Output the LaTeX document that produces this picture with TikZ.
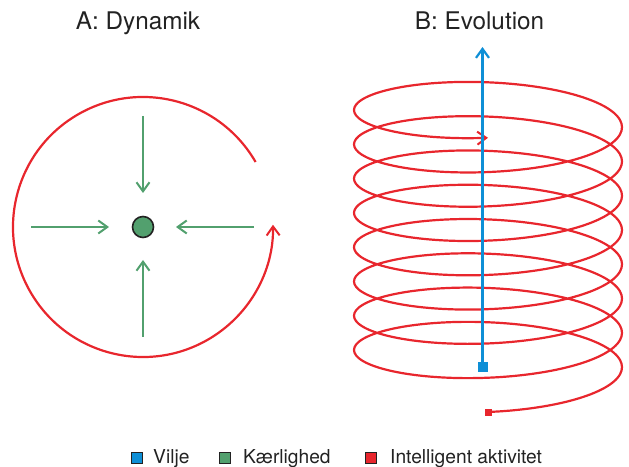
\documentclass[tikz,border=0pt]{standalone}
\usepackage{fontspec}
\setmainfont{TeX Gyre Heros}
\usetikzlibrary{arrows.meta}
\definecolor{cred}{HTML}{E8262D}
\definecolor{cgreen}{HTML}{52A06E}
\definecolor{cblue}{HTML}{0E8FD6}
\definecolor{ctext}{HTML}{222222}
\tikzset{
  redline/.style={draw=cred, line width=2.2pt},
  greenarrow/.style={draw=cgreen, line width=2pt, -{Straight Barb[length=9pt,width=13pt,line width=2pt]}},
  bluearrow/.style={draw=cblue, line width=2.6pt, -{Straight Barb[length=9pt,width=13pt,line width=2.2pt]}},
  legsq/.style={draw=ctext, line width=0.6pt, minimum size=11pt, inner sep=0pt},
  legtxt/.style={anchor=base west, inner sep=0pt, text=ctext, font=\fontsize{19.2}{22}\selectfont},
  titletxt/.style={anchor=base, inner sep=0pt, text=ctext, font=\fontsize{24.3}{28}\selectfont}
}
\begin{document}
\begin{tikzpicture}[x=1pt,y=1pt]
\useasboundingbox (0,0) rectangle (629,466);
% titles
\node[titletxt] (ta) at (138,436.7) {A: Dynamik};
\node[titletxt] (tb) at (479.5,436.7) {B: Evolution};
% A: circle arc
\draw[redline, -{Straight Barb[length=9pt,width=13pt,line width=2pt]}] (143,239) ++(30:130) arc[start angle=30, end angle=361, radius=130];
% center dot
\node[circle, fill=cgreen, draw=ctext, line width=1.6pt, minimum size=21pt, inner sep=0pt] (dot) at (143,239) {};
\coordinate (gt) at (143,350);
\coordinate (gb) at (143,129);
\coordinate (gl) at (31,239);
\coordinate (gr) at (254,239);
\draw[greenarrow] (gt) -- (143,273);
\draw[greenarrow] (gb) -- (143,206);
\draw[greenarrow] (gl) -- (109,239);
\draw[greenarrow] (gr) -- (176,239);
% B: helix
\node[fill=cred, minimum size=7pt, inner sep=0pt] (rs) at (488,54) {};
\draw[redline, line join=round, -{Straight Barb[length=9pt,width=13pt,line width=2pt]}]
  plot[domain=0:2880, samples=577, smooth, variable=\t]
  ({488+134*sin(\t)}, {90.3+0.095222*\t-36.3*cos(\t)});
% blue arrow
\node[fill=cblue, minimum size=10pt, inner sep=0pt] (bs) at (482.5,99) {};
\coordinate (btop) at (482.5,419);
\draw[bluearrow] (bs.center) -- (btop);
% legend
\node[legsq, fill=cblue] (l1) at (137,8) {};
\node[legtxt] (t1) at (153,3) {Vilje};
\node[legsq, fill=cgreen] (l2) at (225,8) {};
\node[legtxt] (t2) at (243,3) {Kærlighed};
\node[legsq, fill=cred] (l3) at (371,8) {};
\node[legtxt] (t3) at (390,3) {Intelligent aktivitet};
\end{tikzpicture}
\end{document}
